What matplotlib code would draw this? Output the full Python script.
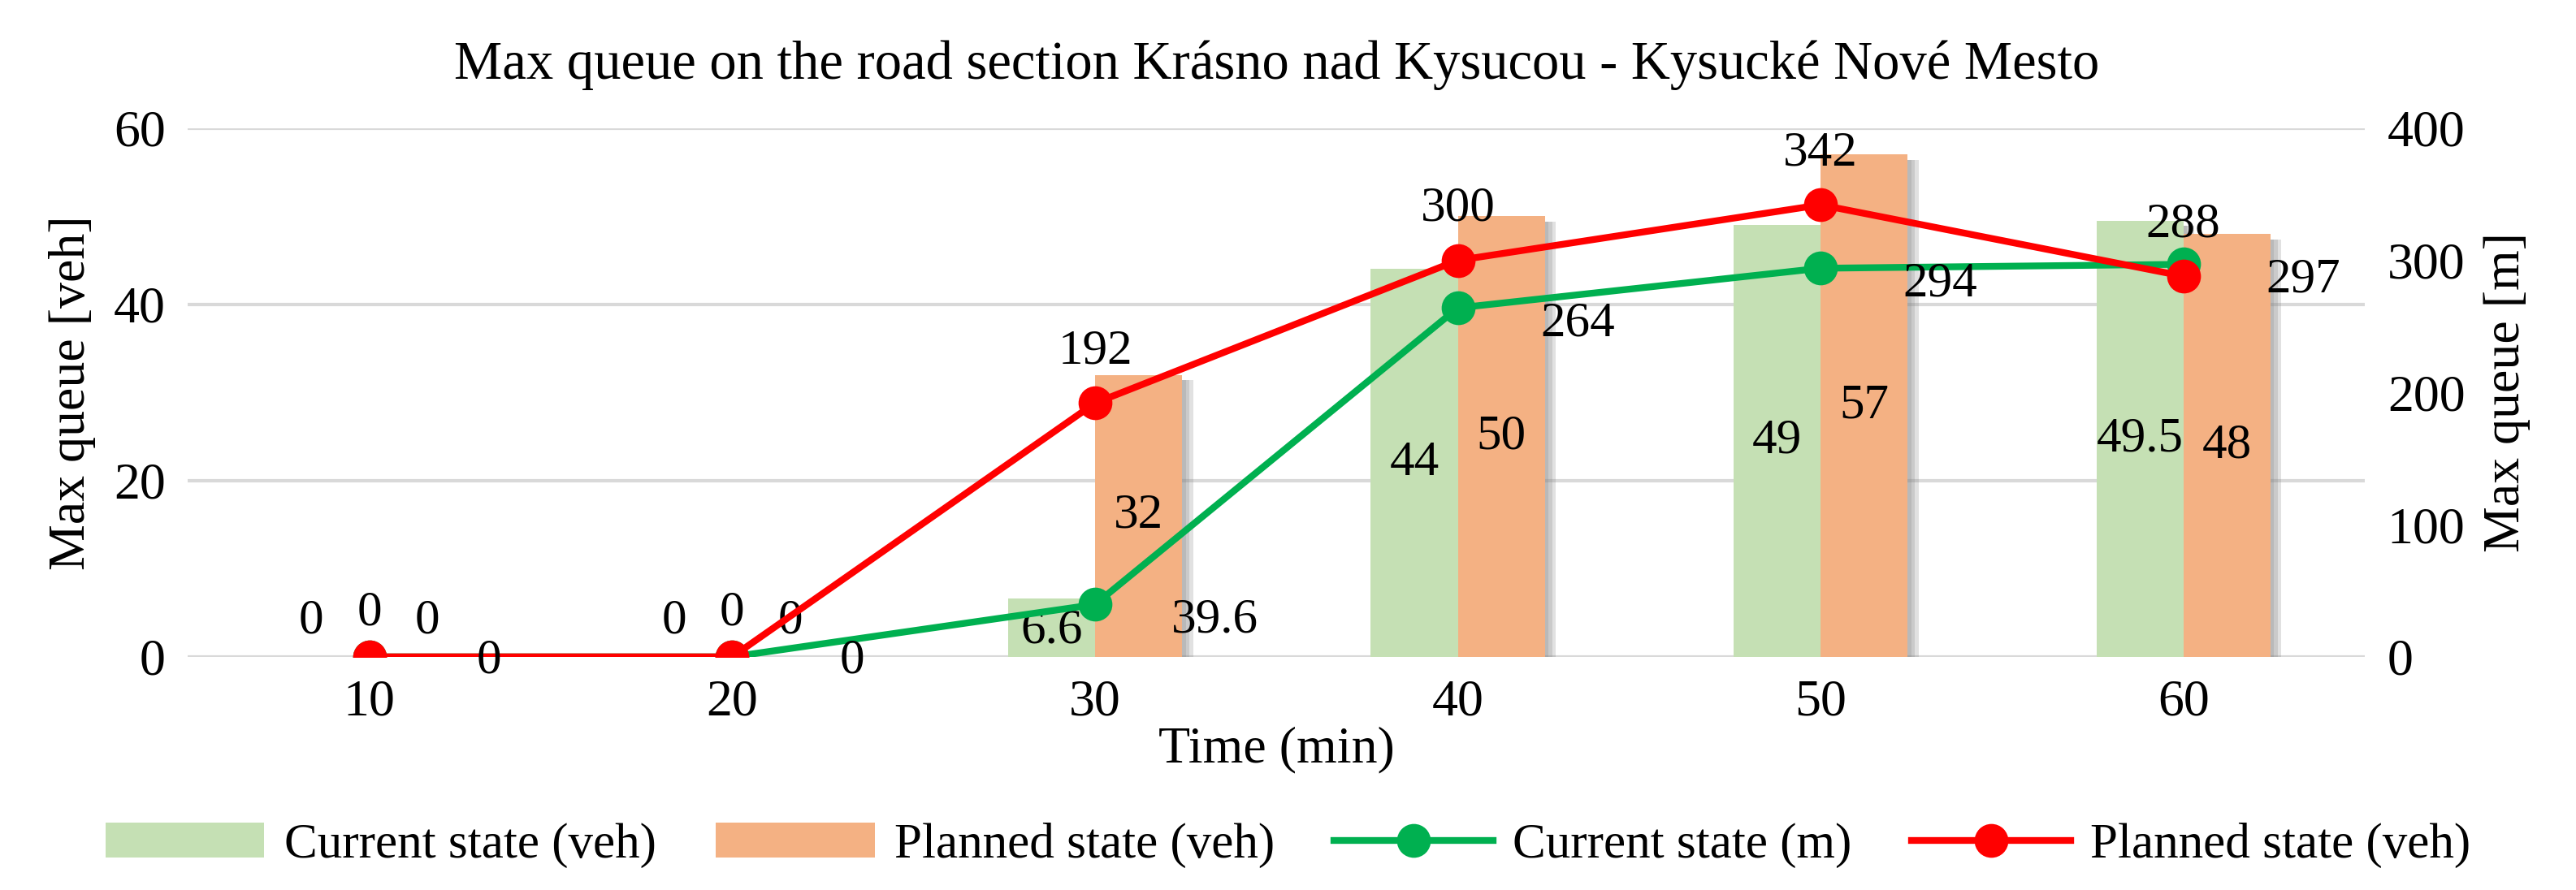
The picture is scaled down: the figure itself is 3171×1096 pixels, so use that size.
import numpy as np
import matplotlib.pyplot as plt

plt.rcParams['font.family'] = ['Liberation Serif', 'DejaVu Serif']

times = ["10", "20", "30", "40", "50", "60"]
current_veh = [0, 0, 6.6, 44, 49, 49.5]
planned_veh = [0, 0, 32, 50, 57, 48]
current_m = [0, 0, 39.6, 264, 294, 297]
planned_m = [0, 0, 192, 300, 342, 288]

x = np.arange(len(times))
w = 0.24

fig = plt.figure(figsize=(15.855, 5.48), dpi=200)
ax = fig.add_axes([0.073, 0.262, 0.845, 0.594])
ax2 = ax.twinx()

# soft shadows behind bars
for dx, a in [(0.03, 0.25), (0.02, 0.25), (0.01, 0.25)]:
    ax.bar(x - w / 2 + dx, current_veh, w, bottom=-0.6, color='#888888', alpha=a, zorder=1)
    ax.bar(x + w / 2 + dx, planned_veh, w, bottom=-0.6, color='#888888', alpha=a, zorder=1)
b1 = ax.bar(x - w / 2, current_veh, w, color='#c5e0b4', label='Current state (veh)', zorder=2)
b2 = ax.bar(x + w / 2, planned_veh, w, color='#f4b183', label='Planned state (veh)', zorder=2)

ax.set_ylim(0, 60)
ax.set_yticks([0, 20, 40, 60])
ax.set_xlim(-0.5, len(times) - 0.5)
ax.set_xticks(x)
ax.set_xticklabels(times)
ax.grid(axis='y', color='#d9d9d9', linewidth=1.5, zorder=0)
ax.set_axisbelow(True)
for s in ax.spines.values():
    s.set_visible(False)
for s in ax2.spines.values():
    s.set_visible(False)
ax.tick_params(length=0, labelsize=23, pad=10)
ax2.tick_params(length=0, labelsize=23, pad=10)
ax.set_ylabel('Max queue [veh]', fontsize=23, labelpad=8)
ax2.set_ylabel('Max queue [m]', fontsize=23, labelpad=8)
ax.set_xlabel('Time (min)', fontsize=23, labelpad=0)
ax.set_title('Max queue on the road section Krásno nad Kysucou - Kysucké Nové Mesto', fontsize=24, pad=22)

l1, = ax2.plot(x, current_m, color='#00b050', lw=3, marker='o', ms=14, label='Current state (m)', zorder=4)
l2, = ax2.plot(x, planned_m, color='#ff0000', lw=3, marker='o', ms=14, label='Planned state (veh)', zorder=5)
ax2.set_ylim(0, 400)
ax2.set_yticks([0, 100, 200, 300, 400])

fs = 22
for i in range(len(times)):
    if current_veh[i] == 0:
        ax.text(x[i] - w / 2 - 0.04, 1.5, '0', ha='center', va='bottom', fontsize=fs, zorder=6)
        ax.text(x[i] + w / 2 + 0.04, 1.5, '0', ha='center', va='bottom', fontsize=fs, zorder=6)
        ax2.text(x[i], 16, '0', ha='center', va='bottom', fontsize=fs, zorder=6)
        ax2.text(x[i] + 0.33, -3, '0', ha='center', va='center', fontsize=fs, zorder=6)
        continue
    ax.text(x[i] - w / 2, current_veh[i] * 0.5 if current_veh[i] > 10 else 3,
            f'{current_veh[i]:g}', ha='center', va='center', fontsize=fs, zorder=6)
    ax.text(x[i] + w / 2, planned_veh[i] * 0.5, f'{planned_veh[i]:g}',
            ha='center', va='center', fontsize=fs, zorder=6)
    ax2.text(x[i] + 0.33, current_m[i] - 12, f'{current_m[i]:g}', ha='center', va='center', fontsize=fs, zorder=6)
    ax2.text(x[i], planned_m[i] + 22, f'{planned_m[i]:g}', ha='center', va='bottom', fontsize=fs, zorder=6)

fig.legend(handles=[b1, b2, l1, l2], loc='center', bbox_to_anchor=(0.5, 0.05), ncol=4,
           frameon=False, fontsize=22, handlelength=3.2, columnspacing=1.2, handletextpad=0.4)

fig.savefig('out.png', dpi=200)
